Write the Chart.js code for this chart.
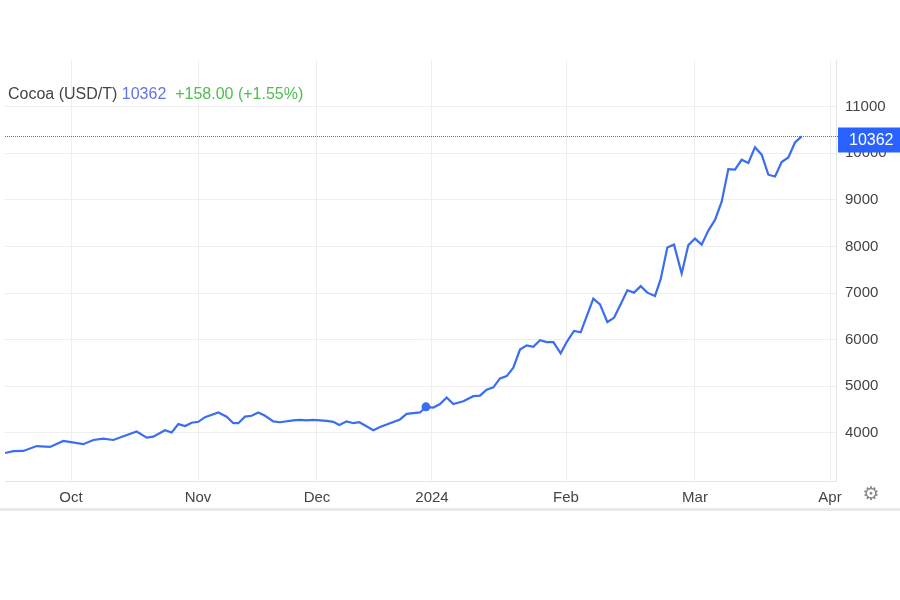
<!DOCTYPE html>
<html><head><meta charset="utf-8">
<script src="https://cdn.jsdelivr.net/npm/chart.js@4/dist/chart.umd.min.js"></script>
<style>html,body{margin:0;padding:0;background:#fff}#w{width:900px;height:600px}</style>
</head><body><div id="w"><canvas id="c"></canvas></div>
<script>
const sessions=[0,1.25,2.75,4.75,6.75,8.75,11.75,13.25,14.75,16.25,19.75,21.25,22.25,24,25,26,27,28,29,30,32,33.25,34.25,35,36,37,38,39,40.25,41.25,43.25,44.25,45.25,46.25,48.25,49.25,50.15,51.25,52.25,53.15,54.15,55.25,56.25,57.25,59.25,60.25,62.25,63.15,64.25,65.25,66.25,
67.25,68.75,70.25,71.25,72.25,73.25,74.25,75.25,76.25,77.25,78.25,79.25,80.25,81.25,82.25,83.35,84.25,85.35,86.35,87.25,88.25,89.25,90.35,91.35,92.35,93.35,94.35,95.35,96.35,97.5,98.35,99.35,100.35,101.5,102.5,103.5,104.5,105.5,106.5,107.5,108.5,109.5,110.5,111.5,112.5,113.5,114.5,115.5,116.5,117.5,118.5,119.5];
const prices=[3570,3610,3615,3720,3700,3830,3760,3850,3880,3850,4030,3900,3920,4060,4010,4190,4150,4220,4240,4340,4440,4350,4210,4210,4350,4370,4440,4370,4250,4230,4270,4280,4270,4280,4260,4240,4170,4250,4210,4230,4150,4060,4130,4180,4290,4410,4440,4560,4545,4620,4760,
4620,4680,4790,4800,4930,4980,5170,5220,5400,5790,5880,5850,5990,5950,5950,5710,5950,6190,6160,6500,6880,6760,6380,6470,6760,7060,7010,7150,7010,6940,7300,7980,8040,7420,8030,8170,8040,8340,8570,8960,9660,9650,9860,9790,10130,9970,9540,9500,9810,9910,10230,10362];
const monthLabels=['Oct','Nov','Dec','2024','Feb','Mar','Apr'];
const monthSessions=[9.9,28.95,46.8,64.05,84.15,103.5,123.75];
const yTicks=[4000,5000,6000,7000,8000,9000,10000,11000];
const markerIdx=47;
const title='Cocoa (USD/T)', lastTxt='10362', chgTxt='+158.00 (+1.55%)';
const last=prices[prices.length-1];
const blue='#3a6df0';
const deco={id:'deco',afterDraw(ch){
 const c=ch.ctx,a=ch.chartArea,y=ch.scales.y;
 c.save();
 const yy=Math.round(y.getPixelForValue(last))+0.5;
 c.strokeStyle='#4a6cff';c.lineWidth=1;c.setLineDash([1,1]);
 c.beginPath();c.moveTo(a.left,yy);c.lineTo(a.right+2,yy);c.stroke();c.setLineDash([]);
 c.fillStyle='#2962ff';c.fillRect(838,yy-9,62,25);
 c.fillStyle='#fff';c.font='16px Arial, "Liberation Sans"';c.textBaseline='middle';c.textAlign='left';c.fillText(lastTxt,849,yy+4);
 c.textBaseline='alphabetic';
 let x=8;c.fillStyle='#444';c.fillText(title,x,99);x+=c.measureText(title+' ').width;
 c.fillStyle='#6274e8';c.fillText(lastTxt,x,99);x+=c.measureText(lastTxt+'  ').width;
 c.fillStyle='#4cbf4c';c.fillText(chgTxt,x,99);
 c.fillStyle='#e8e8e8';c.fillRect(0,508,900,3);
 c.fillStyle='#888';c.font='19px "DejaVu Sans"';c.textAlign='center';c.textBaseline='middle';c.fillText('⚙',871,495);
 c.restore();
}};
new Chart(document.getElementById('c'),{
 type:'line',
 data:{datasets:[{data:prices.map((v,i)=>({x:sessions[i],y:v})),borderColor:blue,borderWidth:2.2,tension:0,
  pointRadius:prices.map((v,i)=>i===markerIdx?4.5:0),pointBackgroundColor:blue,pointBorderWidth:0}]},
 options:{responsive:true,maintainAspectRatio:false,animation:false,
  layout:{padding:{top:60,left:5,right:0,bottom:0}},
  plugins:{legend:{display:false},tooltip:{enabled:false}},
  scales:{
   x:{type:'linear',min:0,max:124.65,
    afterBuildTicks(s){s.ticks=monthSessions.map(v=>({value:v}));},
    afterFit(s){s.height=119;},
    grid:{color:'#eeeeee',drawTicks:false},border:{color:'#e4e4e4'},
    ticks:{padding:8,autoSkip:false,maxRotation:0,color:'#444',font:{size:15,family:'Arial, "Liberation Sans"'},
     callback:(v,i)=>monthLabels[i]}},
   y:{position:'right',min:2970,max:12000,
    afterBuildTicks(s){s.ticks=yTicks.map(v=>({value:v}));},
    afterFit(s){s.width=64;},
    grid:{color:'#eeeeee',drawTicks:false},border:{color:'#e4e4e4'},
    ticks:{padding:9,color:'#444',font:{size:15,family:'Arial, "Liberation Sans"'},callback:v=>String(v)}}
  }}
 ,plugins:[deco]});
</script></body></html>
